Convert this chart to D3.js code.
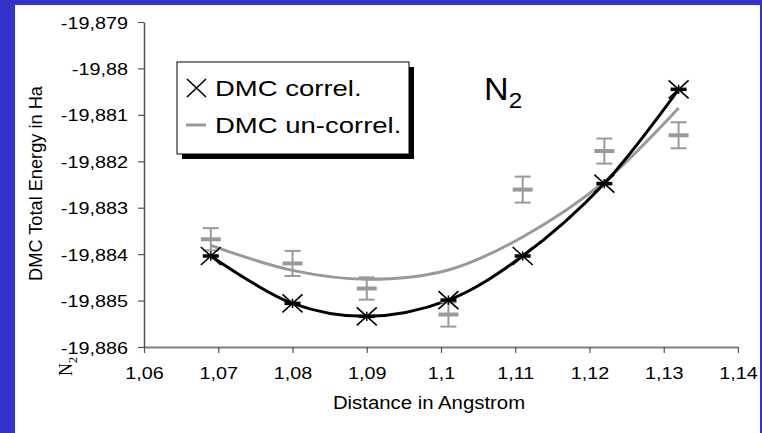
<!DOCTYPE html>
<html>
<head>
<meta charset="utf-8">
<script src="https://cdn.jsdelivr.net/npm/d3@7/dist/d3.min.js"></script>
<style>
  html, body { margin: 0; padding: 0; background: #3333cc; }
  svg { display: block; }
  text { font-family: 'Liberation Sans', Arial, sans-serif; fill: #000; }
</style>
</head>
<body>
<div id="wrapper"></div>
<script>
// data
const distances = [1.069, 1.080, 1.090, 1.101, 1.111, 1.122, 1.132]
const correlEnergy = [-19.88404, -19.88506, -19.88534, -19.88499, -19.88404, -19.88248, -19.88045]
const correlError = [0.0001, 0.0001, 0.0001, 0.0001, 0.0001, 0.0001, 0.0001]
const uncorrelEnergy = [-19.88368, -19.88420, -19.88474, -19.88530, -19.88261, -19.88178, -19.88144]
const uncorrelError = [0.00024, 0.00027, 0.00024, 0.00026, 0.00028, 0.00027, 0.00028]
const uncorrelFit = [-19.88381, -19.88435, -19.88454, -19.88434, -19.88363, -19.88244, -19.88085]
const xTicks = [1.06, 1.07, 1.08, 1.09, 1.10, 1.11, 1.12, 1.13, 1.14]
const yTicks = [-19.879, -19.880, -19.881, -19.882, -19.883, -19.884, -19.885, -19.886]

const stretch = 1.2
const fmt = d => String(+d.toFixed(3)).replace('.', ',')

let dimensions = {
  width: 762,
  height: 433,
  margins: { top: 22, right: 24, bottom: 86, left: 144 }
}
dimensions.boundedWidth = dimensions.width - dimensions.margins.left - dimensions.margins.right
dimensions.boundedHeight = dimensions.height - dimensions.margins.top - dimensions.margins.bottom

const wrapper = d3.select('#wrapper').append('svg')
  .attr('width', dimensions.width)
  .attr('height', dimensions.height)

// white panel on the blue slide
wrapper.append('rect')
  .attr('x', 15).attr('y', 5)
  .attr('width', 745).attr('height', 440)
  .attr('fill', '#fff')

const bounds = wrapper.append('g')
  .attr('transform', `translate(${dimensions.margins.left},${dimensions.margins.top})`)

const xScale = d3.scaleLinear()
  .domain([1.06, 1.14])
  .range([0, dimensions.boundedWidth])

const yScale = d3.scaleLinear()
  .domain([-19.886, -19.879])
  .range([dimensions.boundedHeight, 0])

// axes
const xAxis = bounds.append('g')
  .attr('transform', `translate(0,${dimensions.boundedHeight})`)
  .call(d3.axisBottom(xScale).tickValues(xTicks).tickSize(6).tickSizeOuter(0).tickFormat(fmt))
xAxis.select('.domain').attr('stroke', '#808080').attr('stroke-width', 2)
xAxis.selectAll('.tick line').attr('stroke', '#555').attr('stroke-width', 1.2)
xAxis.selectAll('.tick text')
  .attr('y', null).attr('dy', null)
  .attr('transform', `translate(0,32) scale(${stretch},1)`)
  .style('font-size', '16.5px')

const yAxis = bounds.append('g')
  .call(d3.axisLeft(yScale).tickValues(yTicks).tickSize(6).tickSizeOuter(0).tickFormat(fmt))
yAxis.select('.domain').attr('stroke', '#555').attr('stroke-width', 1.5)
yAxis.selectAll('.tick line').attr('stroke', '#555').attr('stroke-width', 1.2)
yAxis.selectAll('.tick text')
  .attr('x', null).attr('dy', null)
  .attr('transform', `translate(-16,6) scale(${stretch},1)`)
  .style('font-size', '16.5px')

bounds.append('text')
  .attr('transform', `translate(${-dimensions.margins.left + 42},${dimensions.boundedHeight / 2 - 1}) rotate(-90) scale(1.04,1)`)
  .attr('text-anchor', 'middle')
  .style('font-size', '17.5px')
  .text('DMC Total Energy in Ha')

bounds.append('text')
  .attr('transform', `translate(${dimensions.boundedWidth / 2 - 12},${dimensions.boundedHeight + 62}) scale(1.1,1)`)
  .attr('text-anchor', 'middle')
  .style('font-size', '18.5px')
  .text('Distance in Angstrom')

// stray rotated N2 under the y axis
const stray = bounds.append('text')
  .attr('transform', `translate(${-dimensions.margins.left + 72},${dimensions.boundedHeight + 29}) rotate(-90)`)
  .style('font-family', "'Liberation Serif', 'Times New Roman', serif")
  .style('font-size', '18px')
  .attr('fill', '#333')
stray.append('tspan').text('N')
stray.append('tspan').attr('dy', 5).style('font-size', '12px').text('2')

// curves
const line = (ys) => d3.line()
  .x((d, i) => xScale(distances[i]))
  .y(d => yScale(d))
  .curve(d3.curveCatmullRom)(ys)

bounds.append('path')
  .attr('d', line(uncorrelFit))
  .attr('fill', 'none')
  .attr('stroke', '#999')
  .attr('stroke-width', 3)

bounds.append('path')
  .attr('d', line(correlEnergy))
  .attr('fill', 'none')
  .attr('stroke', '#000')
  .attr('stroke-width', 3)

// uncorrelated error bars
const gray = bounds.append('g').selectAll('g')
  .data(uncorrelEnergy)
  .join('g')
  .attr('transform', (d, i) => `translate(${xScale(distances[i])},0)`)
  .attr('stroke', '#9a9a9a')
gray.append('line')
  .attr('y1', (d, i) => yScale(d + uncorrelError[i]))
  .attr('y2', (d, i) => yScale(d - uncorrelError[i]))
  .attr('stroke-width', 2)
gray.append('line')
  .attr('x1', -8).attr('x2', 8)
  .attr('y1', (d, i) => yScale(d + uncorrelError[i]))
  .attr('y2', (d, i) => yScale(d + uncorrelError[i]))
  .attr('stroke-width', 2)
gray.append('line')
  .attr('x1', -8).attr('x2', 8)
  .attr('y1', (d, i) => yScale(d - uncorrelError[i]))
  .attr('y2', (d, i) => yScale(d - uncorrelError[i]))
  .attr('stroke-width', 2)
gray.append('line')
  .attr('x1', -10).attr('x2', 10)
  .attr('y1', d => yScale(d)).attr('y2', d => yScale(d))
  .attr('stroke-width', 4)

// correlated points: small error bars and X markers
const black = bounds.append('g').selectAll('g')
  .data(correlEnergy)
  .join('g')
  .attr('transform', (d, i) => `translate(${xScale(distances[i])},${yScale(d)})`)
  .attr('stroke', '#000')
black.append('line')
  .attr('x1', -8).attr('x2', 8)
  .attr('stroke-width', 3.5)
black.append('line')
  .attr('y1', (d, i) => yScale(d + correlError[i]) - yScale(d))
  .attr('y2', (d, i) => yScale(d - correlError[i]) - yScale(d))
  .attr('stroke-width', 1.5)
black.append('path')
  .attr('d', 'M-10,-9L10,9M-10,9L10,-9')
  .attr('fill', 'none')
  .attr('stroke-width', 1.6)

// molecule label
const title = bounds.append('text')
  .attr('transform', `translate(${xScale(1.1058)},${yScale(-19.88068)}) scale(1.1,1)`)
  .style('font-size', '31px')
title.append('tspan').text('N')
title.append('tspan').attr('dy', 8).style('font-size', '22px').text('2')

// legend
const legend = wrapper.append('g').attr('transform', 'translate(177,62)')
legend.append('rect')
  .attr('x', 5).attr('y', 5).attr('width', 232).attr('height', 92)
  .attr('fill', '#000')
legend.append('rect')
  .attr('width', 232).attr('height', 92)
  .attr('fill', '#fff').attr('stroke', '#000').attr('stroke-width', 1)
legend.append('path')
  .attr('d', 'M10,17L29,35M10,35L29,17')
  .attr('stroke', '#000').attr('stroke-width', 1.6)
legend.append('line')
  .attr('x1', 9).attr('x2', 29).attr('y1', 63).attr('y2', 63)
  .attr('stroke', '#9a9a9a').attr('stroke-width', 3)
legend.append('text')
  .attr('transform', `translate(38,34) scale(1.25,1)`)
  .style('font-size', '22px')
  .text('DMC correl.')
legend.append('text')
  .attr('transform', `translate(38,71) scale(1.25,1)`)
  .style('font-size', '22px')
  .text('DMC un-correl.')
</script>
</body>
</html>
